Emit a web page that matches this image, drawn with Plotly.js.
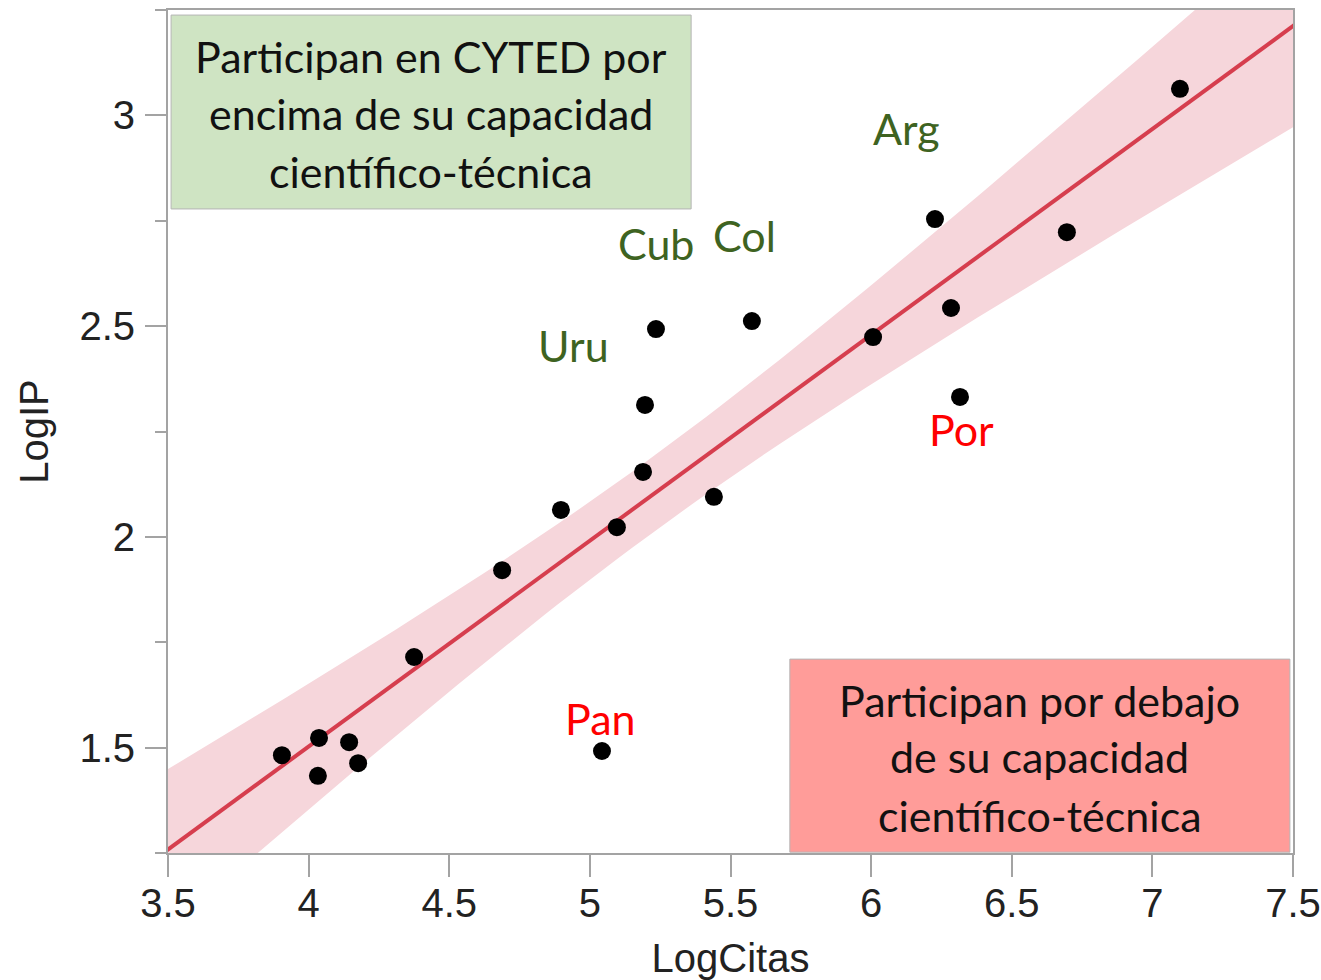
<!DOCTYPE html>
<html>
<head>
<meta charset="utf-8">
<script src="https://cdn.plot.ly/plotly-3.0.1.min.js"></script>
<style>html,body{margin:0;padding:0;background:#fff;}#chart{width:1321px;height:980px;}</style>
</head>
<body>
<div id="chart"></div>
<script>
// ---- data ----
const logCitas = [3.905, 4.037, 4.033, 4.144, 4.176, 4.375, 4.688, 4.897, 5.096, 5.189, 5.196, 5.235, 5.441, 5.576, 5.043, 6.007, 6.227, 6.284, 6.316, 6.696, 7.098];
const logIP    = [1.482, 1.523, 1.433, 1.513, 1.463, 1.715, 1.921, 2.064, 2.023, 2.154, 2.313, 2.493, 2.095, 2.512, 1.492, 2.474, 2.754, 2.543, 2.332, 2.723, 3.063];
const countryLabels = ["Arg", "Cub", "Col", "Uru", "Por", "Pan"];
const countryGroup  = ["above", "above", "above", "above", "below", "below"];
const boxAboveLines = ["Participan en CYTED por", "encima de su capacidad", "científico-técnica"];
const boxBelowLines = ["Participan por debajo", "de su capacidad", "científico-técnica"];
const xTickVals = [3.5, 4, 4.5, 5, 5.5, 6, 6.5, 7, 7.5];
const xTickText = ["3.5", "4", "4.5", "5", "5.5", "6", "6.5", "7", "7.5"];
const yTickVals = [1.5, 2, 2.5, 3];
const yTickText = ["1.5", "2", "2.5", "3"];
const tCrit = 2.093; // t(0.975, df = 19)

// ---- label / box placement ----
const labelPos = [[6.124, 2.970], [5.235, 2.695], [5.548, 2.714], [4.940, 2.453], [6.323, 2.254], [5.036, 1.570]];
const boxAbove = {x0: 3.511, x1: 5.360, y0: 2.778, y1: 3.238, cx: 4.435, ys: [3.140, 3.004, 2.866]};
const boxBelow = {x0: 5.711, x1: 7.489, y0: 1.252, y1: 1.710, cx: 6.600, ys: [1.612, 1.479, 1.339]};

// ---- linear fit and 95% confidence band of the mean ----
const n = logCitas.length;
const mx = logCitas.reduce((a, b) => a + b, 0) / n;
const my = logIP.reduce((a, b) => a + b, 0) / n;
let sxx = 0, sxy = 0;
for (let i = 0; i < n; i++) { sxx += (logCitas[i] - mx) ** 2; sxy += (logCitas[i] - mx) * (logIP[i] - my); }
const slope = sxy / sxx, icpt = my - slope * mx;
let sse = 0;
for (let i = 0; i < n; i++) sse += (logIP[i] - (icpt + slope * logCitas[i])) ** 2;
const s = Math.sqrt(sse / (n - 2));
const bx = [], bu = [], bl = [];
for (let k = 0; k <= 100; k++) {
  const x = 3.3 + k * (4.4 / 100);
  const hw = tCrit * s * Math.sqrt(1 / n + (x - mx) ** 2 / sxx);
  const yh = icpt + slope * x;
  bx.push(x); bu.push(yh + hw); bl.push(yh - hw);
}
const bandX = bx.concat(bx.slice().reverse());
const bandY = bu.concat(bl.slice().reverse());
const fitX = [3.3, 7.7];
const fitY = fitX.map(x => icpt + slope * x);

const traces = [
  {x: bandX, y: bandY, type: 'scatter', mode: 'lines', fill: 'toself', fillcolor: 'rgb(246,214,219)', line: {width: 0}, hoverinfo: 'skip'},
  {x: fitX, y: fitY, type: 'scatter', mode: 'lines', line: {color: 'rgb(214,62,78)', width: 4}},
  {x: logCitas, y: logIP, type: 'scatter', mode: 'markers', marker: {color: '#000', size: 18}}
];

const textFont = {family: 'Lato, "Open Sans", sans-serif', size: 43, color: '#111'};
const annotations = [];
countryLabels.forEach((t, i) => {
  annotations.push({x: labelPos[i][0], y: labelPos[i][1], xref: 'x', yref: 'y', text: t, showarrow: false,
    font: {family: textFont.family, size: 43, color: countryGroup[i] === 'above' ? '#3e6321' : '#ff0000'}});
});
boxAboveLines.forEach((t, i) => annotations.push({x: boxAbove.cx, y: boxAbove.ys[i], xref: 'x', yref: 'y', text: t, showarrow: false, font: textFont}));
boxBelowLines.forEach((t, i) => annotations.push({x: boxBelow.cx, y: boxBelow.ys[i], xref: 'x', yref: 'y', text: t, showarrow: false, font: textFont}));

const shapes = [
  {type: 'rect', xref: 'x', yref: 'y', x0: boxAbove.x0, x1: boxAbove.x1, y0: boxAbove.y0, y1: boxAbove.y1, fillcolor: '#cfe4c3', line: {color: '#b5b5b5', width: 1}, layer: 'above'},
  {type: 'rect', xref: 'x', yref: 'y', x0: boxBelow.x0, x1: boxBelow.x1, y0: boxBelow.y0, y1: boxBelow.y1, fillcolor: '#ff9c99', line: {color: '#b5b5b5', width: 1}, layer: 'above'}
];

const axisFont = {family: '"Liberation Sans", Arial, sans-serif', size: 40, color: '#222'};
const layout = {
  width: 1321, height: 980,
  margin: {l: 168, r: 28, t: 10, b: 127, pad: 0},
  paper_bgcolor: '#fff', plot_bgcolor: '#fff',
  showlegend: false,
  xaxis: {
    range: [3.5, 7.5], tickvals: xTickVals, ticktext: xTickText,
    showgrid: false, zeroline: false, showline: true, linecolor: '#a3a3a3', linewidth: 2, mirror: true,
    ticks: 'outside', ticklen: 22, tickwidth: 2, tickcolor: '#a3a3a3', tickfont: axisFont,
    ticklabelstandoff: -8,
    title: {text: 'LogCitas', font: axisFont, standoff: 20}
  },
  yaxis: {
    range: [1.25, 3.25], tickvals: yTickVals, ticktext: yTickText,
    showgrid: false, zeroline: false, showline: true, linecolor: '#a3a3a3', linewidth: 2, mirror: true,
    ticks: 'outside', ticklen: 21, tickwidth: 2, tickcolor: '#a3a3a3', tickfont: axisFont,
    ticklabelstandoff: 2,
    minor: {tickvals: [1.25, 1.75, 2.25, 2.75, 3.25], ticks: 'outside', ticklen: 11, tickwidth: 2, tickcolor: '#a3a3a3', showgrid: false},
    title: {text: 'LogIP', font: axisFont, standoff: 18}
  },
  shapes: shapes,
  annotations: annotations
};
Plotly.newPlot('chart', traces, layout, {displayModeBar: false, staticPlot: true});
</script>
</body>
</html>
